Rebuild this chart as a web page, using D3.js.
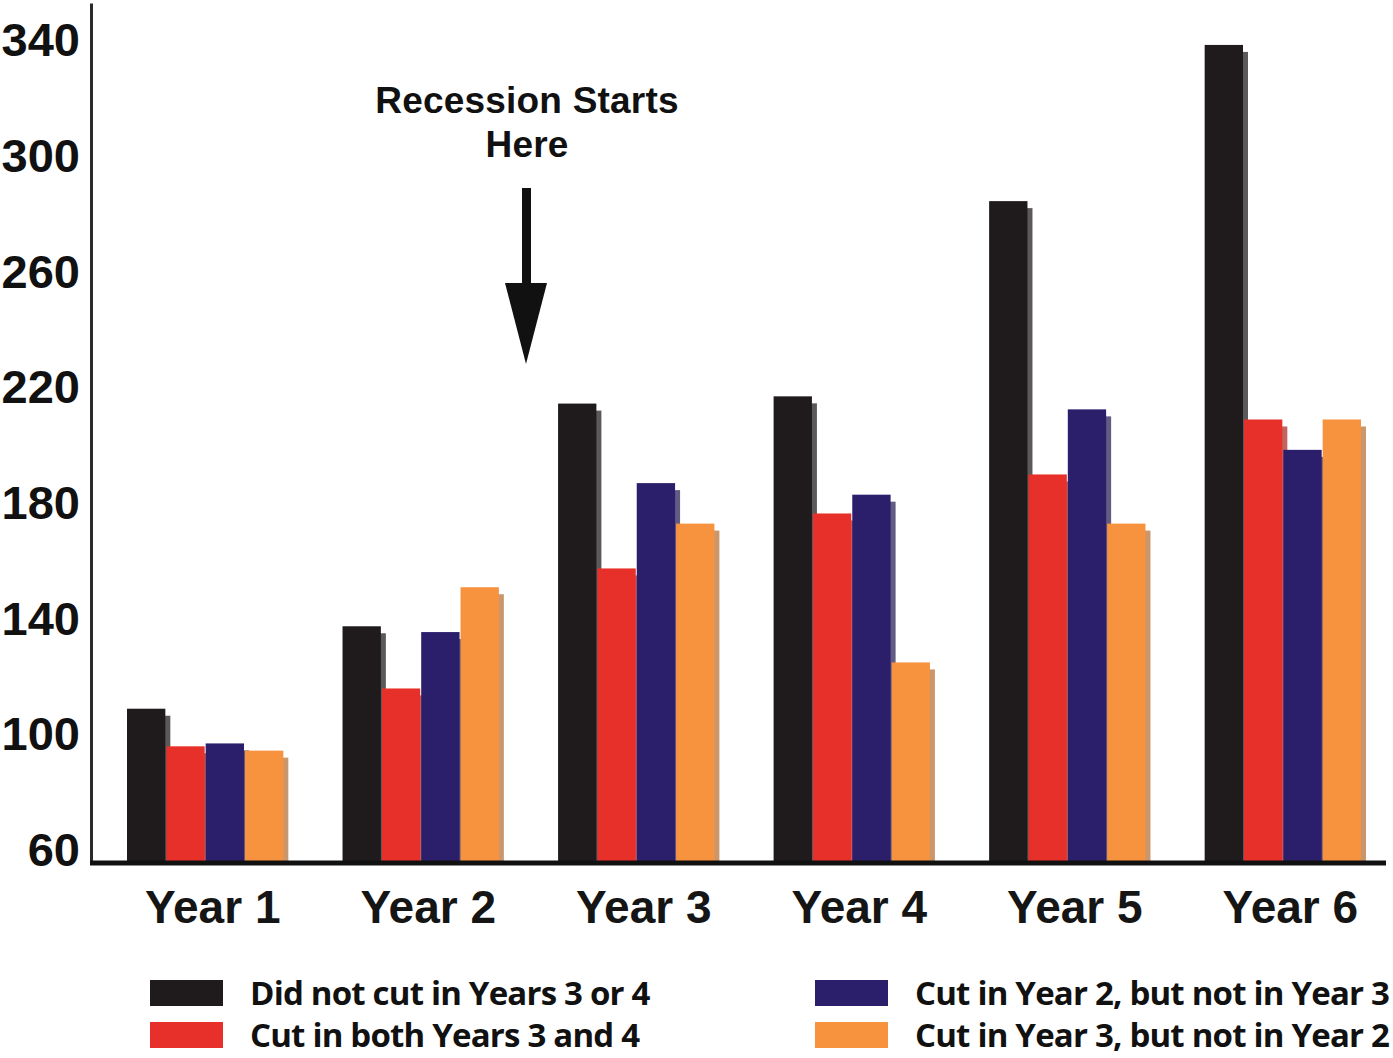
<!DOCTYPE html>
<html>
<head>
<meta charset="utf-8">
<script src="https://cdn.jsdelivr.net/npm/d3@7"></script>
<style>
  body { margin: 0; background: #fff; }
  svg { display: block; }
</style>
</head>
<body>
<svg id="chart"></svg>
<script>
// Grouped bars: four spending groups over six years, with recession marker

const years = ["Year 1", "Year 2", "Year 3", "Year 4", "Year 5", "Year 6"];
const seriesNames = [
    "Did not cut in Years 3 or 4",
    "Cut in both Years 3 and 4",
    "Cut in Year 2, but not in Year 3",
    "Cut in Year 3, but not in Year 2"
];
const didNotCut = [109, 137.5, 214.5, 217, 284.5, 338.5];
const cutBoth = [96, 116, 157.5, 176.5, 190, 209];
const cutYear2 = [97, 135.5, 187, 183, 212.5, 198.5];
const cutYear3 = [94.5, 151, 173, 125, 173, 209];
const yTicks = [60, 100, 140, 180, 220, 260, 300, 340];
const colors = ["#1f1b1d", "#e8302a", "#2b1f6c", "#f7923f"];
const noteLines = ["Recession Starts", "Here"];

const allSeries = [didNotCut, cutBoth, cutYear2, cutYear3];

const svgWidth = 1393;
const svgHeight = 1058;

const svg = d3.select("#chart")
    .attr("width", svgWidth)
    .attr("height", svgHeight);

const axisX = 91;
const baseY = 862;

const yScale = d3.scaleLinear().domain([56, 353]).range([baseY, 3]);
const xScale = d3.scaleBand().domain(years).range([127, 1362]).paddingInner(0.27);
const innerScale = d3.scaleBand().domain(seriesNames).range([0, xScale.bandwidth()]);

// bars, each with a small drop shadow on its right side
const groups = svg.append("g")
    .selectAll("g")
    .data(years)
    .join("g")
    .attr("transform", d => `translate(${xScale(d)},0)`);

groups.each(function(year, yi) {
    const grp = d3.select(this);
    seriesNames.forEach((name, si) => {
        const v = allSeries[si][yi];
        const bx = innerScale(name);
        const bw = innerScale.bandwidth() - 1;
        grp.append("rect")
            .attr("x", bx + 5)
            .attr("y", yScale(v) + 7)
            .attr("width", bw)
            .attr("height", baseY - yScale(v) - 7)
            .attr("fill", d3.color(colors[si]).darker(0.9))
            .attr("opacity", 0.7);
        grp.append("rect")
            .attr("x", bx)
            .attr("y", yScale(v))
            .attr("width", bw)
            .attr("height", baseY - yScale(v))
            .attr("fill", colors[si]);
    });
});

// y axis
const yAxis = svg.append("g")
    .attr("transform", `translate(${axisX},0)`)
    .call(d3.axisLeft(yScale).tickValues(yTicks).tickSize(0).tickPadding(11));

yAxis.select(".domain")
    .attr("stroke", "#2a2a2a")
    .attr("stroke-width", 3);

yAxis.selectAll("text")
    .attr("font-family", "'Liberation Sans', Arial, sans-serif")
    .attr("font-weight", "bold")
    .attr("font-size", "47px")
    .attr("fill", "#111");

// baseline
svg.append("line")
    .attr("x1", axisX - 1)
    .attr("x2", 1386)
    .attr("y1", baseY + 1)
    .attr("y2", baseY + 1)
    .attr("stroke", "#111")
    .attr("stroke-width", 5);

// year labels
const xAxis = svg.append("g")
    .attr("transform", `translate(7,${baseY})`)
    .call(d3.axisBottom(xScale).tickSize(0).tickPadding(28));

xAxis.select(".domain").remove();
xAxis.selectAll("text")
    .attr("font-family", "'Liberation Sans', Arial, sans-serif")
    .attr("font-weight", "bold")
    .attr("font-size", "46px")
    .attr("fill", "#151515");

// recession annotation
const note = svg.append("g").attr("transform", "translate(527,0)");

note.selectAll("text")
    .data(noteLines)
    .join("text")
    .attr("y", (d, i) => 113 + i * 44)
    .attr("text-anchor", "middle")
    .attr("font-family", "'Liberation Sans', Arial, sans-serif")
    .attr("font-weight", "bold")
    .attr("font-size", "37px")
    .attr("letter-spacing", "0.2px")
    .attr("fill", "#111")
    .text(d => d);

note.append("rect")
    .attr("x", -5)
    .attr("y", 188)
    .attr("width", 9)
    .attr("height", 100)
    .attr("fill", "#111");

note.append("path")
    .attr("d", "M-22,283 L20,283 L-1,364 Z")
    .attr("fill", "#111");

// legend
const legend = svg.append("g")
    .selectAll("g")
    .data(seriesNames)
    .join("g")
    .attr("transform", (d, i) => `translate(${Math.floor(i / 2) === 0 ? 150 : 815},${i % 2 === 0 ? 980 : 1022})`);

legend.append("rect")
    .attr("width", 73)
    .attr("height", 26)
    .attr("fill", (d, i) => colors[i]);

legend.append("text")
    .attr("x", 100)
    .attr("y", 25)
    .attr("font-family", "'Open Sans', sans-serif")
    .attr("font-weight", "bold")
    .attr("font-size", "33px")
    .attr("letter-spacing", "-0.8px")
    .attr("fill", "#111")
    .text(d => d);
</script>
</body>
</html>
